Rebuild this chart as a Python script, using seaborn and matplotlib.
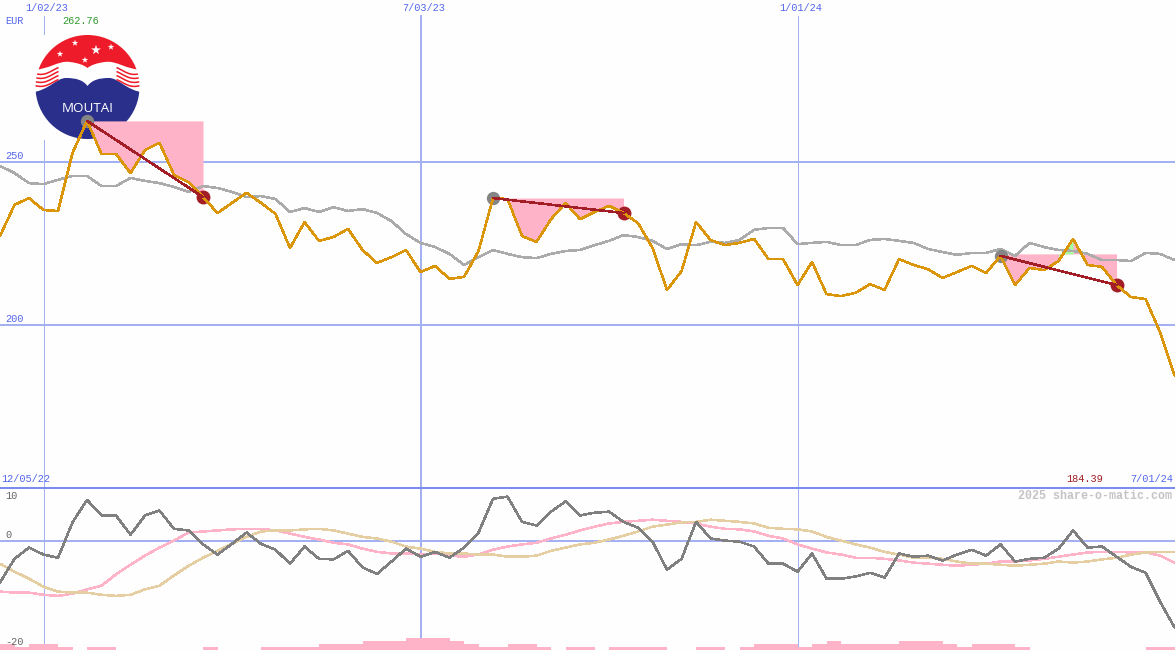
import numpy as np
import matplotlib
matplotlib.use('Agg')
import matplotlib.pyplot as plt
from matplotlib.patches import Circle, PathPatch
from matplotlib.path import Path
import seaborn as sns

price = [227.3, 236.9, 239.0, 235.3, 235.0, 252.9, 262.76, 252.6, 252.6, 246.7,
         253.8, 256.0, 246.1, 243.9, 239.3, 234.4, 237.5, 240.6, 237.5, 234.1,
         223.6, 231.6, 225.8, 227.0, 229.5, 223.0, 219.0, 220.8, 223.0, 216.2,
         218.1, 214.1, 214.7, 222.7, 239.0, 238.7, 227.3, 225.5, 232.5, 237.5,
         232.5, 234.7, 236.6, 234.4, 231.3, 223.6, 210.7, 216.5, 231.6, 226.1,
         224.5, 225.2, 226.4, 220.2, 220.2, 212.2, 219.3, 209.4, 208.8, 209.8,
         212.5, 210.7, 220.2, 218.4, 217.1, 214.4, 216.2, 218.1, 215.9, 221.2,
         212.2, 217.5, 216.8, 219.6, 226.4, 218.4, 217.8, 212.2, 208.5, 207.9,
         197.7, 184.39]
benchmark = [248.9, 246.7, 243.6, 243.3, 244.6, 245.8, 245.8, 242.7, 242.7, 245.2,
             244.3, 243.6, 242.4, 240.9, 242.7, 242.1, 240.9, 239.3, 239.6, 238.7,
             234.7, 235.9, 234.7, 236.2, 235.0, 235.6, 234.4, 231.9, 227.9, 225.2,
             223.9, 221.8, 218.4, 220.8, 223.0, 221.8, 220.8, 220.5, 221.8, 222.7,
             223.0, 224.5, 225.8, 227.6, 227.0, 225.8, 223.3, 224.8, 224.5, 225.5,
             225.2, 226.1, 229.2, 229.8, 229.8, 224.8, 225.2, 225.5, 224.5, 224.5,
             226.1, 226.4, 225.8, 225.2, 223.3, 222.4, 221.5, 222.1, 222.1, 223.3,
             221.2, 225.2, 223.9, 223.0, 222.7, 221.8, 219.9, 219.9, 219.6, 222.1,
             221.8, 219.9]
momentum = [-7.8, -3.4, -1.3, -2.6, -3.2, 3.4, 7.6, 4.7, 4.7, 1.1,
            4.7, 5.6, 2.2, 1.9, -0.7, -2.6, -0.6, 1.5, -0.6, -1.7,
            -4.3, -1.1, -3.4, -3.5, -1.9, -5.0, -6.2, -3.9, -1.5, -3.0,
            -2.1, -3.2, -1.3, 1.5, 7.8, 8.2, 3.5, 2.8, 5.4, 7.3,
            4.7, 5.2, 5.4, 3.5, 2.4, -0.2, -5.4, -3.4, 3.5, 0.4,
            0.0, -0.2, -1.1, -4.3, -4.3, -5.8, -2.4, -7.1, -7.1, -6.7,
            -6.0, -6.9, -2.4, -3.0, -2.8, -3.7, -2.6, -1.7, -2.8, -0.7,
            -3.9, -3.4, -3.2, -1.5, 1.9, -1.3, -1.1, -3.0, -4.9, -6.0,
            -11.4, -16.2]
fast_avg = [-9.5, -9.7, -9.7, -10.1, -10.3, -9.9, -9.1, -8.4, -6.3, -4.5,
            -2.8, -1.3, 0.0, 1.5, 1.7, 1.9, 2.1, 2.2, 2.2, 1.9,
            1.3, 0.7, 0.2, -0.4, -0.7, -1.5, -2.1, -2.4, -2.4, -2.6,
            -2.4, -2.8, -3.0, -2.6, -1.7, -1.1, -0.7, -0.4, 0.4, 1.1,
            1.9, 2.6, 3.2, 3.5, 3.7, 3.9, 3.7, 3.5, 3.2, 2.6,
            2.2, 2.1, 1.7, 0.9, 0.4, -0.7, -1.5, -2.2, -2.6, -3.2,
            -3.2, -3.4, -3.7, -4.1, -4.3, -4.5, -4.7, -4.5, -4.3, -3.9,
            -3.9, -3.7, -3.4, -3.0, -2.6, -2.2, -2.1, -2.1, -2.2, -2.2,
            -2.8, -4.1]
slow_avg = [-4.3, -5.8, -7.1, -8.6, -9.5, -9.7, -9.7, -10.1, -10.3, -10.1,
            -9.1, -8.4, -6.5, -4.7, -3.2, -1.9, -0.6, 0.7, 1.7, 1.9,
            1.9, 2.1, 2.2, 1.9, 1.3, 0.7, 0.4, -0.2, -1.1, -1.5,
            -2.1, -2.4, -2.4, -2.6, -2.6, -3.0, -3.0, -2.8, -1.9, -1.3,
            -0.7, -0.4, 0.2, 0.9, 1.7, 2.6, 3.0, 3.4, 3.5, 3.9,
            3.7, 3.5, 3.2, 2.4, 2.2, 2.1, 1.7, 0.7, 0.0, -0.7,
            -1.3, -2.1, -2.6, -3.2, -3.2, -3.4, -3.9, -4.3, -4.3, -4.5,
            -4.7, -4.5, -4.3, -3.9, -4.1, -3.9, -3.5, -3.2, -2.6, -2.2,
            -2.1, -2.1]
volume = [2, 1, 2, 2, 1, 0, 1, 1, 0, 0, 0, 0, 0, 0, 1, 0, 0, 0, 1, 1,
          1, 1, 2, 2, 2, 3, 3, 3, 4, 4, 4, 3, 2, 1, 1, 2, 2, 1, 0, 1,
          1, 0, 1, 1, 1, 1, 0, 0, 1, 1, 0, 1, 2, 2, 2, 1, 2, 3, 2, 2,
          2, 2, 3, 3, 3, 2, 1, 2, 2, 2, 1, 0, 0, 0, 0, 0, 0, 0, 0, 1, 1]
# start / end index of the three drawdowns, and the week that rises through the level
drawdowns = [(6, 14), (34, 43), (69, 77)]
drawdown_levels = [262.76, 239.0, 221.8]
green_weeks = (73, 74)
date_weeks = [3, 29, 55]
date_labels = ['1/02/23', '7/03/23', '1/01/24']
price_ticks = [250, 200]
mom_ticks = [10, 0, -20]

BG = '#FDFEFD'
GRID = '#A3B1F2'
BLUE = '#5566EE'
PINK = '#FFB3C8'
ORANGE = '#DB9508'
DARKRED = '#A31D26'
MONO = 'Liberation Mono'
LW = 1.1  # about 2 px once aliased

sns.set_style('white')
# the original is a hard-edged gif
plt.rcParams['lines.antialiased'] = False
plt.rcParams['patch.antialiased'] = False
weeks = np.arange(len(price))
price = np.array(price)

fig = plt.figure(figsize=(11.75, 6.5), dpi=100, facecolor=BG)
ax = fig.add_axes([0, 163 / 650, 1, 487 / 650])
low = fig.add_axes([0, 0, 1, 163 / 650])
for a in (ax, low):
    a.axis('off')

# price panel
for t in price_ticks:
    ax.axhline(t, color=GRID, lw=1.4, zorder=1)
for w, lw_ in zip(date_weeks, [0.7, 1.4, 0.7]):
    ax.axvline(w, ymax=1 - 16 / 487, color=GRID, lw=lw_, zorder=1)
    low.axvline(w, color=GRID, lw=lw_, zorder=1)

for (a_, b_), lev in zip(drawdowns, drawdown_levels):
    ax.fill_between(weeks[a_:b_ + 1], lev, price[a_:b_ + 1], color=PINK, lw=0, zorder=3)
ax.fill_between(weeks[green_weeks[0]:green_weeks[1] + 1], drawdown_levels[2],
                price[green_weeks[0]:green_weeks[1] + 1], color='#A8FFA0', lw=0, zorder=3.5)

sns.lineplot(x=weeks, y=benchmark, color='#ABABAB', lw=LW, ax=ax, zorder=4)
starts = [d[0] for d in drawdowns]
ends = [d[1] for d in drawdowns]
sns.scatterplot(x=starts, y=price[starts], color='#858585', s=92, lw=0, ax=ax, zorder=4.5)
sns.scatterplot(x=ends, y=price[ends], color=DARKRED, s=100, lw=0, ax=ax, zorder=4.5)
sns.lineplot(x=weeks, y=price, color=ORANGE, lw=LW, ax=ax, zorder=5)
for (a_, b_) in drawdowns:
    sns.lineplot(x=[a_, b_], y=[price[a_], price[b_]], color=DARKRED, lw=LW, ax=ax, zorder=6)
ax.set_xlim(0, 81.03)
ax.set_ylim(150, 300)

# logo sits on a white square above the grid, under the data
logo = ax.inset_axes([35 / 1175, (487 - 140) / 487, 105 / 1175, 105 / 487], zorder=2)
logo.set_xlim(35, 140)
logo.set_ylim(140, 35)
logo.set_xticks([])
logo.set_yticks([])
logo.set_facecolor(BG)
for s in logo.spines.values():
    s.set_visible(False)
disc = Circle((87.5, 87), 52, transform=logo.transData)
M, L, C = Path.MOVETO, Path.LINETO, Path.CURVE4
red_cap = Path([(30, 70), (50, 70), (58, 60), (70, 62), (78, 63), (84, 65), (87.5, 68),
                (91, 65), (97, 63), (105, 62), (117, 60), (125, 70), (145, 70),
                (145, 30), (30, 30), (30, 70)],
               [M, C, C, C, C, C, C, C, C, C, C, C, C, L, L, L])
blue_cap = Path([(30, 93), (50, 90), (56, 78), (66, 78), (76, 78), (83, 80), (87.5, 86),
                 (92, 80), (99, 78), (109, 78), (119, 78), (125, 90), (145, 93),
                 (145, 145), (30, 145), (30, 93)],
                [M, C, C, C, C, C, C, C, C, C, C, C, C, L, L, L])
for pth, col in ((red_cap, '#EE1C2A'), (blue_cap, '#2B2F8C')):
    pp = PathPatch(pth, fc=col, lw=0, antialiased=True)
    logo.add_patch(pp)
    pp.set_clip_path(disc)
for y0 in (73.5, 77.5, 81.5, 85.5):
    for sign in (-1, 1):
        wave = Path([(87.5 + sign * 53, y0), (87.5 + sign * 42, y0 + 3),
                     (87.5 + sign * 38, y0 - 2), (87.5 + sign * 29, y0 - 6)],
                    [M, C, C, C])
        pp = PathPatch(wave, fc='none', ec='#EE1C2A', lw=1.1, antialiased=True)
        logo.add_patch(pp)
        pp.set_clip_path(disc)
logo.scatter([75, 60, 96, 111, 85], [43, 54, 50, 47, 60], marker='*',
             s=[24, 24, 55, 24, 24], c='white', lw=0, antialiased=True)
logo.text(87.5, 108.7, 'MOUTAI', color='white', fontsize=9.6, family='Open Sans',
          ha='center', va='center')

# indicator panel
low.axhline(0, color=GRID, lw=1.4, zorder=1)
sns.lineplot(x=weeks, y=fast_avg, color='#FFB3C8', lw=LW, ax=low, zorder=3)
sns.lineplot(x=weeks, y=slow_avg, color='#E5CFA2', lw=LW, ax=low, zorder=3)
sns.lineplot(x=weeks, y=momentum, color='#808080', lw=LW, ax=low, zorder=4)
low.set_xlim(0, 81.03)
low.set_ylim(-20.4, 10)

vol = low.twinx()
vol.axis('off')
sns.histplot(x=np.arange(len(volume)), weights=volume, bins=len(volume),
             binrange=(0, len(volume)), element='step', fill=True, color=PINK,
             alpha=1, lw=0, ax=vol)
vol.set_xlim(0, 81.03)
vol.set_ylim(0, 163 / 3)

# separator and all labels, placed in picture pixels
top = fig.add_axes([0, 0, 1, 1], zorder=10)
top.axis('off')
top.set_xlim(0, 1175)
top.set_ylim(650, 0)
top.axhline(487.5, color='#7A8CF0', lw=1.4)


def label(x, y, s, color=BLUE, ha='left', size=7.4, **kw):
    top.text(x, y, s, color=color, ha=ha, va='center', fontsize=size, family=MONO, **kw)


for w, s in zip(date_weeks, date_labels):
    label(w * 14.5 + 3, 8, s, ha='center')
label(5, 21, 'EUR')
label(62, 21, '262.76', color='#2E9A2E')
for t in price_ticks:
    label(5, 487 * (300 - t) / 150 - 6, str(t))
label(1, 479, '12/05/22')
label(1066, 479, '184.39', color=DARKRED)
label(1173, 479, '7/01/24', ha='right')
for t in mom_ticks:
    label(5, 541 - t * 5.36 - 6 if t != 10 else 496, str(t), color='#666666')
label(1172, 496, '2025 share-o-matic.com', color='#C4C4C4', ha='right', size=8.4, weight='bold')

fig.savefig('out.png', dpi=100, facecolor=BG)
